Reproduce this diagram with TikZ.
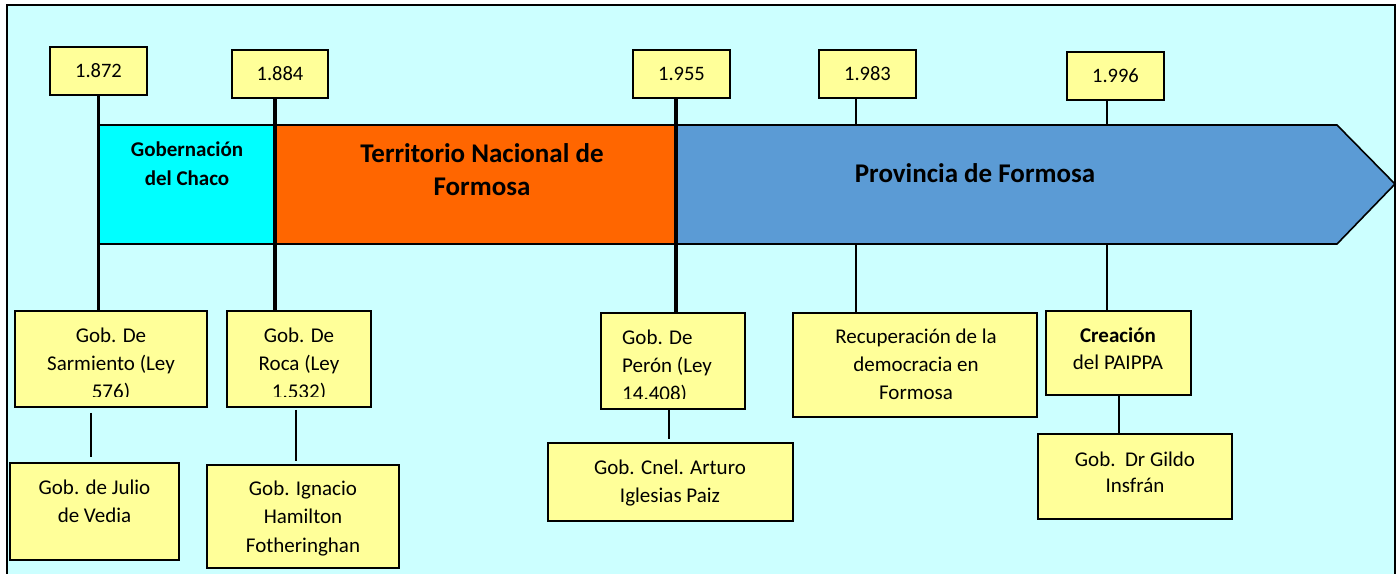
\documentclass[tikz,border=0pt]{standalone}
\usepackage{fontspec}
\setmainfont{Carlito}
\definecolor{bgcyan}{HTML}{CCFFFF}
\definecolor{chaco}{HTML}{00FFFF}
\definecolor{terr}{HTML}{FF6600}
\definecolor{prov}{HTML}{5B9BD5}
\definecolor{ybox}{HTML}{FFFF99}
\begin{document}
\begin{tikzpicture}[x=1pt,y=-1pt,
  yearbox/.style={draw=black, line width=1.6pt, fill=ybox, inner sep=0pt,
    font=\fontsize{20.5}{24}\selectfont, minimum height=48pt, minimum width=97pt},
  infobox/.style={draw=black, line width=1.6pt, fill=ybox, inner sep=0pt},
  txt/.style={font=\fontsize{21}{28}\selectfont, align=center, inner sep=0pt, anchor=base},
  bandtxt/.style={font=\bfseries\fontsize{27}{33}\selectfont, inner sep=0pt, anchor=base},
  bandshape/.style={draw=black, line width=1.6pt},
  thickconn/.style={line width=3.6pt},
  thinconn/.style={line width=1.1pt},
]
\clip (0,0) rectangle (1399,573);
\fill[white] (0,0) rectangle (1399,573);
\draw[fill=bgcyan, line width=2pt] (6.5,600) -- (6.5,4.5) -- (1395,4.5) -- (1395,600);

% year boxes
\node[yearbox] (y1872) at (98.5,71) {1.872};
\node[yearbox, minimum width=96pt] (y1884) at (280,74) {1.884};
\node[yearbox] (y1955) at (681.5,74) {1.955};
\node[yearbox] (y1983) at (867.5,74) {1.983};
\node[yearbox] (y1996) at (1115.5,76) {1.996};

% lower boxes
\node[infobox, minimum width=192pt, minimum height=96pt] (sar) at (111,359) {};
\node[infobox, minimum width=144pt, minimum height=96pt] (roc) at (299,359) {};
\node[infobox, minimum width=144pt, minimum height=96pt] (per) at (673,361) {};
\node[infobox, minimum width=244pt, minimum height=104pt] (rec) at (915,365) {};
\node[infobox, minimum width=145pt, minimum height=84pt] (cre) at (1118.5,353) {};
\node[infobox, minimum width=169pt, minimum height=97pt] (jul) at (94.5,511.5) {};
\node[infobox, minimum width=192pt, minimum height=103pt] (ign) at (303,516.5) {};
\node[infobox, minimum width=245pt, minimum height=78pt] (art) at (670.5,482) {};
\node[infobox, minimum width=194pt, minimum height=85pt] (gil) at (1135,476.5) {};

% thin connectors behind the band
\draw[thinconn] (y1983.south -| 856,0) -- (rec.north -| 856,0);
\draw[thinconn] (y1996.south -| 1107,0) -- (cre.north -| 1107,0);

% band
\path[bandshape, fill=chaco] (98,125) rectangle (275,244);
\path[bandshape, fill=terr] (275,125) rectangle (676,244);
\path[bandshape, fill=prov] (676,125) -- (1337,125) -- (1395,184) -- (1337,244) -- (676,244) -- cycle;
\node[font=\bfseries\fontsize{21}{29}\selectfont, align=center, inner sep=0pt, anchor=base] (chacot) at (187,185) {Gobernación\\del Chaco};
\node[bandtxt, align=center] (terrt) at (482,195) {Territorio Nacional de\\Formosa};
\node[bandtxt] (provt) at (975,182) {Provincia de Formosa};

% thick connectors
\draw[thickconn] (y1872.south) -- (y1872.south |- sar.north);
\draw[thickconn] (y1884.south -| 275,0) -- (roc.north -| 275,0);
\draw[thickconn] (y1955.south -| 676,0) -- (per.north -| 676,0);

% lower connectors
\draw[thinconn, shorten <=5pt, shorten >=5pt] (sar.south -| 91,0) -- (jul.north -| 91,0);
\draw[thinconn, shorten <=2pt, shorten >=3pt] (roc.south -| 296,0) -- (ign.north -| 296,0);
\draw[thinconn, shorten >=3pt] (per.south -| 669,0) -- (art.north -| 669,0);
\draw[thinconn] (cre.south -| 1119,0) -- (gil.north -| 1119,0);

% texts of the lower boxes (clipped like the reference)
\begin{scope}
\clip (15,311) rectangle (207,396);
\node[txt] (sart) at (111,398) {Gob. De\\Sarmiento (Ley\\576)};
\end{scope}
\begin{scope}
\clip (227,311) rectangle (371,396);
\node[txt] (roct) at (299,398) {Gob. De\\Roca (Ley\\1.532)};
\end{scope}
\begin{scope}
\clip (601,313) rectangle (745,398);
\node[txt, align=left, anchor=base west] (pert) at (622,400) {Gob. De\\Perón (Ley\\14.408)};
\end{scope}
\node[txt] (rect) at (916,399) {Recuperación de la\\democracia en\\Formosa};
\node[txt, font=\fontsize{21}{27}\selectfont] (cret) at (1118,369) {\textbf{Creación}\\del PAIPPA};
\node[txt] (jult) at (94.5,522) {Gob. de Julio\\de Vedia};
\node[txt, font=\fontsize{21}{28.5}\selectfont] (ignt) at (303,552) {Gob. Ignacio\\Hamilton\\Fotheringhan};
\node[txt] (artt) at (670,502) {Gob. Cnel. Arturo\\Iglesias Paiz};
\node[txt, font=\fontsize{21}{26}\selectfont] (gilt) at (1135,492) {Gob.\ \ Dr Gildo\\Insfrán};
\end{tikzpicture}
\end{document}
